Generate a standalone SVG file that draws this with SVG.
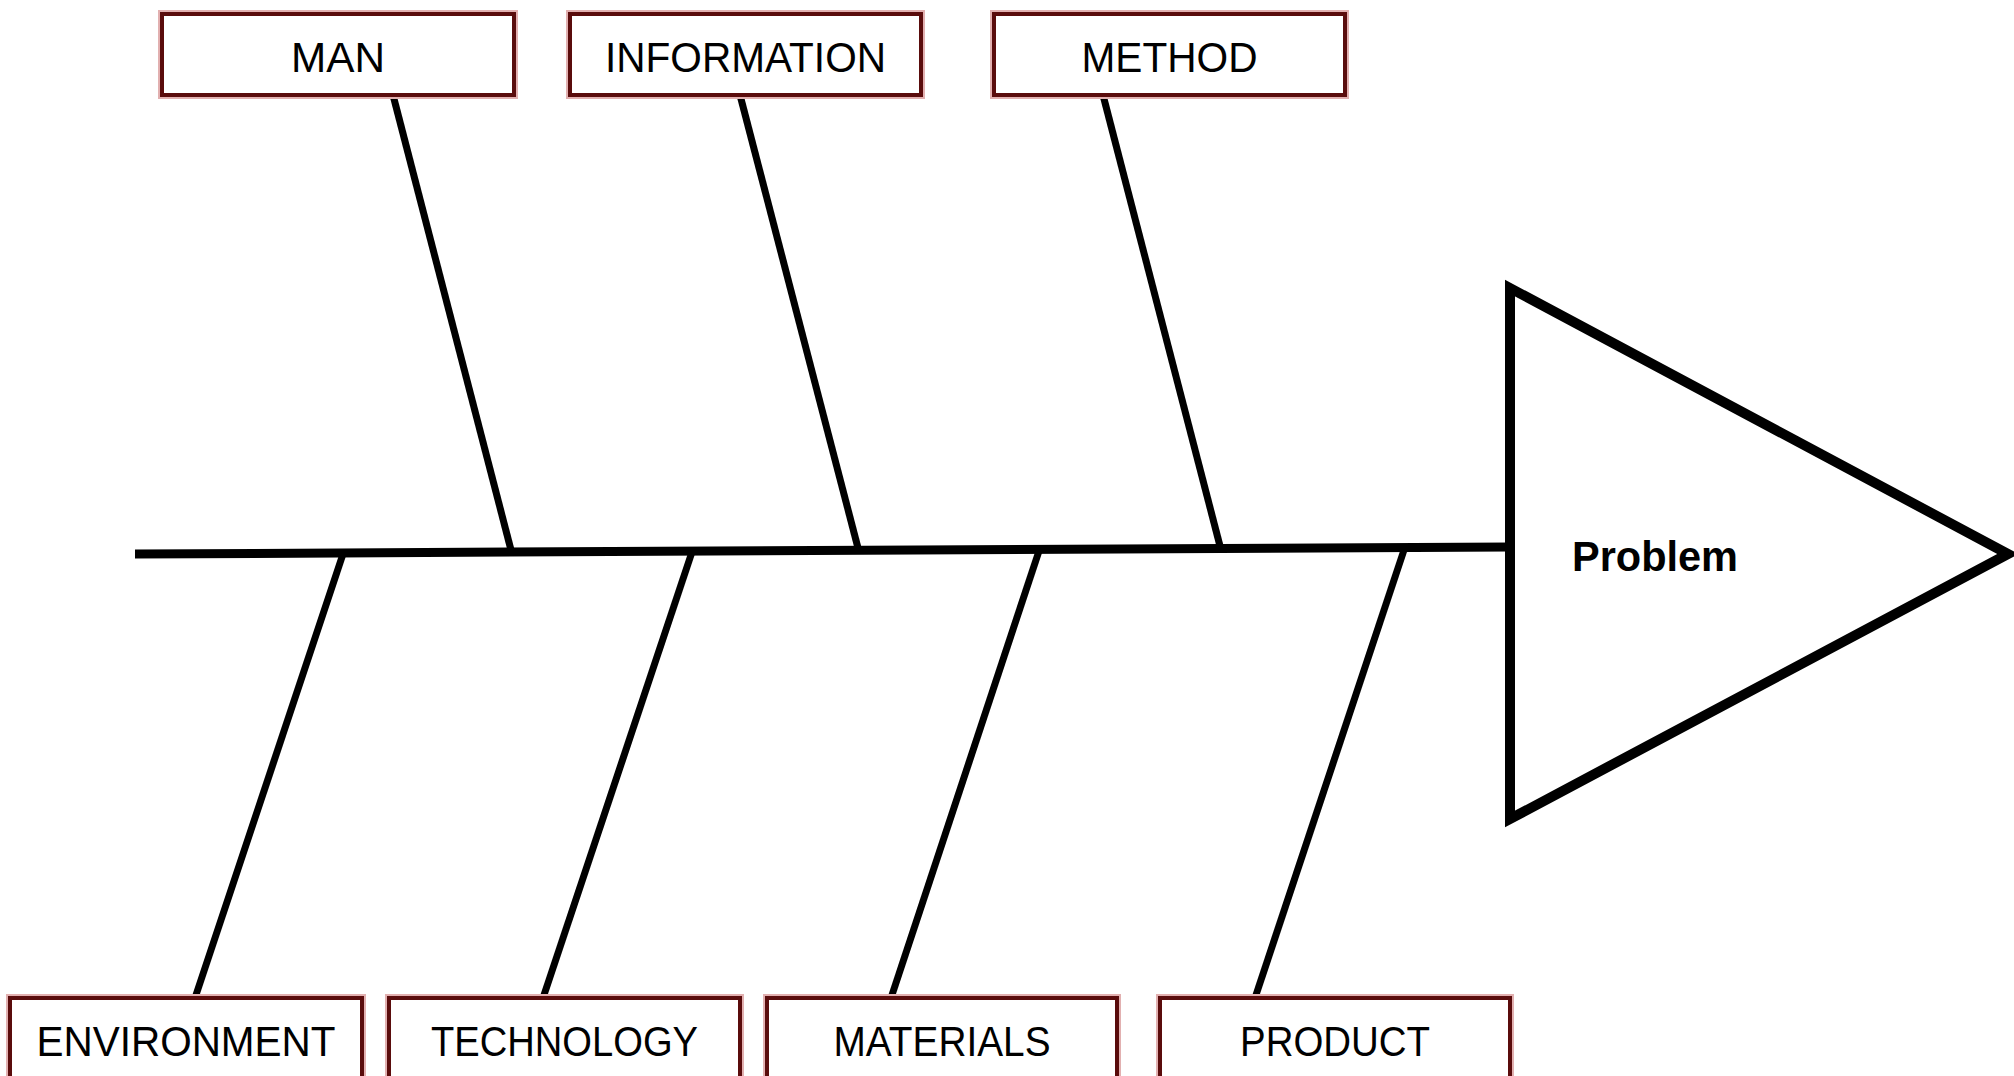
<svg xmlns="http://www.w3.org/2000/svg" width="2014" height="1076" viewBox="0 0 2014 1076">
<style>
.box{fill:#ffffff;stroke:#5a0c0c;stroke-width:4}
.halo{fill:none;stroke:#e2b0b0;stroke-width:8}
.lbl{font-family:"Liberation Sans",Arial,sans-serif;font-size:43px;fill:#000;text-anchor:middle}
.bone{stroke:#000;stroke-width:7;fill:none}
</style>
<rect width="2014" height="1076" fill="#ffffff"/>
<g id="connectors">
<line class="bone" x1="135" y1="554" x2="1510" y2="547" style="stroke-width:9"/>
<line class="bone" x1="393" y1="95" x2="511" y2="550"/>
<line class="bone" x1="740" y1="95" x2="858" y2="548"/>
<line class="bone" x1="1103" y1="95" x2="1220" y2="546"/>
<line class="bone" x1="344" y1="551" x2="195" y2="998"/>
<line class="bone" x1="692" y1="552" x2="543" y2="998"/>
<line class="bone" x1="1039" y1="551" x2="891" y2="998"/>
<line class="bone" x1="1404" y1="550" x2="1255" y2="998"/>
</g>
<g id="problem">
<polygon points="1510,288 1510,819 2008,554" fill="#ffffff" stroke="#000" stroke-width="10"/>
<text x="1572" y="571" font-family="Liberation Sans,Arial,sans-serif" font-size="42" font-weight="bold" fill="#000" textLength="166" lengthAdjust="spacingAndGlyphs">Problem</text>
</g>
<g id="man"><rect class="halo" x="162" y="14" width="352" height="81"/><rect class="box" x="162" y="14" width="352" height="81"/><text class="lbl" x="338" y="72" textLength="94" lengthAdjust="spacingAndGlyphs">MAN</text></g>
<g id="information"><rect class="halo" x="570" y="14" width="351" height="81"/><rect class="box" x="570" y="14" width="351" height="81"/><text class="lbl" x="745.5" y="72" textLength="281" lengthAdjust="spacingAndGlyphs">INFORMATION</text></g>
<g id="method"><rect class="halo" x="994" y="14" width="351" height="81"/><rect class="box" x="994" y="14" width="351" height="81"/><text class="lbl" x="1169.5" y="72" textLength="176" lengthAdjust="spacingAndGlyphs">METHOD</text></g>
<g id="environment"><rect class="halo" x="10" y="998" width="352" height="84"/><rect class="box" x="10" y="998" width="352" height="84"/><text class="lbl" x="186" y="1056" textLength="299" lengthAdjust="spacingAndGlyphs">ENVIRONMENT</text></g>
<g id="technology"><rect class="halo" x="389" y="998" width="351" height="84"/><rect class="box" x="389" y="998" width="351" height="84"/><text class="lbl" x="564.5" y="1056" textLength="267" lengthAdjust="spacingAndGlyphs">TECHNOLOGY</text></g>
<g id="materials"><rect class="halo" x="767" y="998" width="350" height="84"/><rect class="box" x="767" y="998" width="350" height="84"/><text class="lbl" x="942" y="1056" textLength="217" lengthAdjust="spacingAndGlyphs">MATERIALS</text></g>
<g id="product"><rect class="halo" x="1160" y="998" width="350" height="84"/><rect class="box" x="1160" y="998" width="350" height="84"/><text class="lbl" x="1335" y="1056" textLength="190" lengthAdjust="spacingAndGlyphs">PRODUCT</text></g>
</svg>
